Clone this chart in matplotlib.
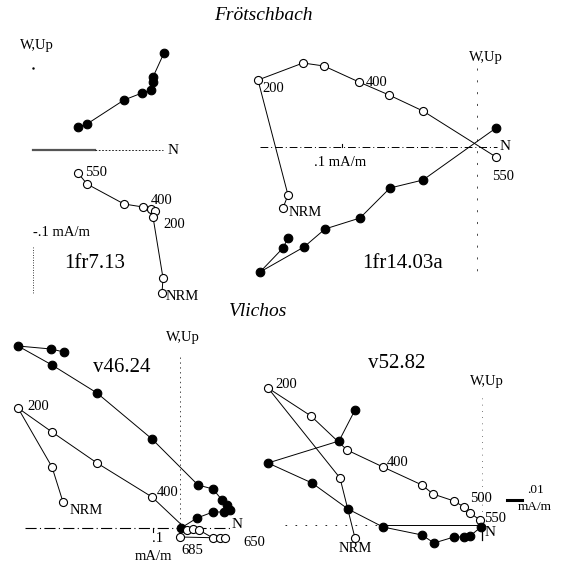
import matplotlib
matplotlib.use('Agg')
import matplotlib.pyplot as plt

plt.rcParams['font.family'] = ['Liberation Serif', 'DejaVu Serif']

# values are (N, W/Up) components relative to each plot origin
# 1fr7.13
p1_hor_n = [45, 54, 91, 109, 118, 120, 120, 131]
p1_hor_up = [23, 26, 50, 57, 60, 68, 73, 97]
p1_ver_n = [45, 54, 91, 110, 118, 122, 120, 130, 129]
p1_ver_up = [-23, -34, -54, -57, -59, -61, -67, -128, -143]

# 1fr14.03a
p2_ver_n = [-194, -189, -219, -174, -153, -118, -88, -54, 19]
p2_ver_up = [-61, -48, 67, 84, 81, 65, 52, 36, -10]
p2_hor_n = [-189, -194, -217, -173, -152, -117, -87, -54, 19]
p2_hor_up = [-91, -101, -125, -100, -82, -71, -41, -33, 19]

# v46.24
p3_hor_n = [-116, -129, -162, -128, -83, -28, 18, 33, 42, 47, 50, 44, 33, 17, 1]
p3_hor_up = [176, 179, 182, 163, 135, 89, 43, 39, 28, 23, 18, 16, 16, 10, 0]
p3_ver_n = [-117, -128, -162, -128, -83, -28, 7, 13, 19, 33, 40, 45, 0]
p3_ver_up = [26, 61, 120, 96, 65, 31, -2, -1, -2, -10, -10, -10, -9]

# v52.82
p4_ver_n = [-127, -142, -214, -171, -135, -99, -60, -49, -28, -18, -12, -2]
p4_ver_up = [-13, 47, 137, 109, 75, 58, 40, 31, 24, 18, 12, 5]
p4_hor_n = [-127, -143, -214, -170, -134, -99, -60, -48, -28, -18, -12, -1]
p4_hor_up = [115, 84, 62, 42, 16, -2, -10, -18, -12, -12, -11, -2]

fig = plt.figure(figsize=(5.63, 5.63), dpi=100)
ax = fig.add_axes([0, 0, 1, 1])
ax.set_xlim(0, 563)
ax.set_ylim(563, 0)
ax.axis('off')


def zplot(ox, oy, n, up, filled):
    xs = [ox + v for v in n]
    ys = [oy - v for v in up]
    ax.plot(xs, ys, '-', color='black', lw=0.7, zorder=2)
    ax.plot(xs, ys, 'o', ms=6.2 if filled else 5.8, mec='black', mew=0.8,
            mfc='black' if filled else 'white', zorder=3)


lab = dict(fontsize=10.5, color='black')

# titles
ax.text(263, 15, 'Frötschbach', ha='center', va='center', fontsize=14, style='italic')
ax.text(258, 311, 'Vlichos', ha='center', va='center', fontsize=14, style='italic')

# panel 1
ox, oy = 33, 150
ax.plot([33, 95], [oy, oy], color='#555555', lw=1.6)
ax.plot([95, 163], [oy, oy], color='black', lw=0.6, ls=(0, (2, 2)))
ax.plot([33], [68], marker='.', ms=1.5, color='black')
ax.plot([33, 33], [247, 293], color='black', lw=0.6, ls=(0, (1, 2)))
zplot(ox, oy, p1_hor_n, p1_hor_up, True)
zplot(ox, oy, p1_ver_n, p1_ver_up, False)
ax.text(20, 45, 'W,Up', ha='left', va='center', **lab)
ax.text(168, 151, 'N', ha='left', va='center', fontsize=11)
ax.text(33, 232, '-.1 mA/m', ha='left', va='center', **lab)
ax.text(95, 263, '1fr7.13', ha='center', va='center', fontsize=15)
ax.text(85, 172, '550', ha='left', va='center', **lab)
ax.text(151, 201, '400', ha='left', va='center', **lab)
ax.text(163, 225, '200', ha='left', va='center', **lab)
ax.text(166, 296, 'NRM', ha='left', va='center', **lab)

# panel 2
ox, oy = 477, 147
ax.plot([260, 497], [oy, oy], color='black', lw=0.7, ls=(0, (8, 3, 1, 3)))
ax.plot([342, 342], [oy - 3, oy], color='black', lw=0.8)
ax.plot([ox, ox], [68, 275], color='black', lw=0.5, ls=(0, (3, 14)))
zplot(ox, oy, p2_ver_n, p2_ver_up, False)
zplot(ox, oy, p2_hor_n, p2_hor_up, True)
ax.text(486, 57, 'W,Up', ha='center', va='center', **lab)
ax.text(500, 146, 'N', ha='left', va='center', fontsize=11)
ax.text(340, 163, '.1 mA/m', ha='center', va='center', **lab)
ax.text(403, 263, '1fr14.03a', ha='center', va='center', fontsize=15)
ax.text(262, 88, '200', ha='left', va='center', **lab)
ax.text(366, 82, '400', ha='left', va='center', **lab)
ax.text(492, 177, '550', ha='left', va='center', **lab)
ax.text(289, 212, 'NRM', ha='left', va='center', **lab)

# panel 3
ox, oy = 180, 528
ax.plot([25, 230], [oy, oy], color='black', lw=0.8, ls=(0, (10, 3, 1, 3)))
ax.plot([153, 153], [oy, oy + 4], color='black', lw=0.8)
ax.plot([ox, ox], [357, oy], color='black', lw=0.5, ls=(0, (2, 5)))
zplot(ox, oy, p3_hor_n, p3_hor_up, True)
zplot(ox, oy, p3_ver_n, p3_ver_up, False)
ax.text(183, 338, 'W,Up', ha='center', va='center', **lab)
ax.text(232, 525, 'N', ha='left', va='center', fontsize=11)
ax.text(158, 539, '.1', ha='center', va='center', **lab)
ax.text(153, 557, 'mA/m', ha='center', va='center', **lab)
ax.text(122, 367, 'v46.24', ha='center', va='center', fontsize=15)
ax.text(27, 407, '200', ha='left', va='center', **lab)
ax.text(157, 493, '400', ha='left', va='center', **lab)
ax.text(70, 510, 'NRM', ha='left', va='center', **lab)
ax.text(192, 550, '685', ha='center', va='center', **lab)
ax.text(243, 543, '650', ha='left', va='center', **lab)

# panel 4
ox, oy = 482, 525
ax.plot([285, 380], [oy, oy], color='black', lw=0.6, ls=(0, (2, 10)))
ax.plot([380, 478], [oy, oy], color='black', lw=0.7)
ax.plot([ox, ox], [398, oy], color='black', lw=0.5, ls=(0, (1, 8)))
ax.plot([ox, ox], [oy, 540], color='black', lw=0.9)
ax.plot([507, 522], [500, 500], color='black', lw=2.2)
zplot(ox, oy, p4_ver_n, p4_ver_up, False)
zplot(ox, oy, p4_hor_n, p4_hor_up, True)
ax.text(487, 382, 'W,Up', ha='center', va='center', **lab)
ax.text(485, 532, 'N', ha='left', va='center', fontsize=11)
ax.text(397, 363, 'v52.82', ha='center', va='center', fontsize=15)
ax.text(275, 385, '200', ha='left', va='center', **lab)
ax.text(387, 463, '400', ha='left', va='center', **lab)
ax.text(470, 499, '500', ha='left', va='center', **lab)
ax.text(484, 518, '550', ha='left', va='center', **lab)
ax.text(355, 549, 'NRM', ha='center', va='center', **lab)
ax.text(527, 490, '.01', ha='left', va='center', fontsize=9.5)
ax.text(518, 507, 'mA/m', ha='left', va='center', fontsize=9.5)

fig.savefig('out.png', dpi=100)
